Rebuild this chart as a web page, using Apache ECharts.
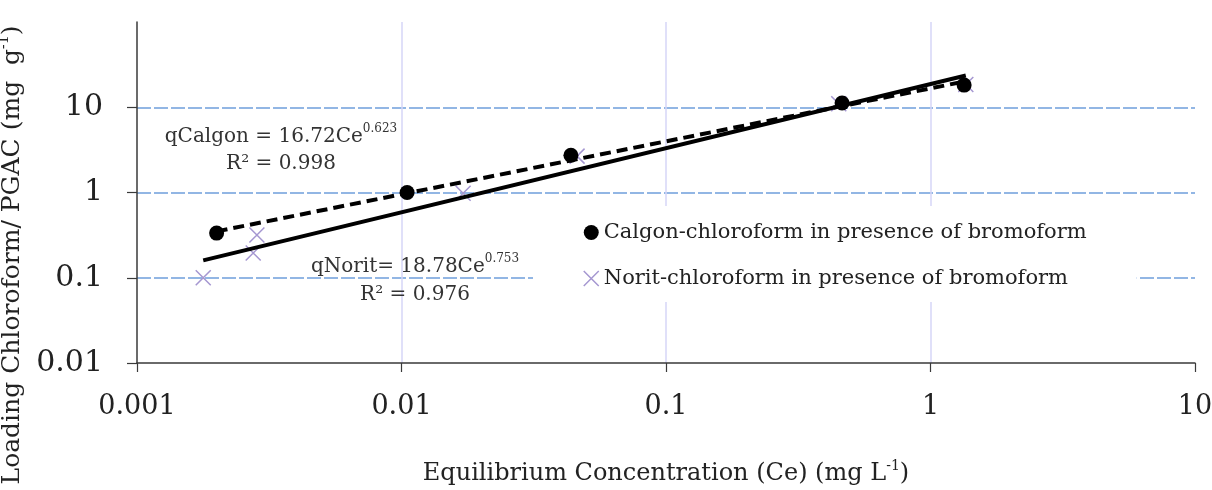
<!DOCTYPE html>
<html>
<head>
<meta charset="utf-8">
<script src="https://cdn.jsdelivr.net/npm/echarts@6/dist/echarts.min.js"></script>
<style>
html,body{margin:0;padding:0;background:#fff;}
#chart{width:1212px;height:490px;}
</style>
</head>
<body>
<div id="chart"></div>
<script>
// ---- data ----
const calgonCe = [0.002, 0.0105, 0.0437, 0.463, 1.34];
const calgonQ  = [0.334, 1.0, 2.74, 11.2, 18.2];
const noritCe  = [0.00178, 0.00275, 0.00284, 0.0171, 0.0461, 0.45, 1.36];
const noritQ   = [0.1, 0.195, 0.317, 0.98, 2.67, 11.0, 18.5];
const calgonFitCe = [0.002, 1.34];
const calgonFitQ  = [0.35, 20.0];
const noritFitCe  = [0.00178, 1.36];
const noritFitQ   = [0.16, 23.6];
const xTickLabels = ['0.001', '0.01', '0.1', '1', '10'];
const yTickLabels = ['0.01', '0.1', '1', '10'];
const seriesNames = ['Calgon-chloroform in presence of bromoform', 'Norit-chloroform in presence of bromoform'];

const pairs = (a, b) => a.map((v, i) => [v, b[i]]);
const FONT = '"DejaVu Serif", "Liberation Serif", serif';
const TXT = '#222';
const crossPath = 'path://M0,0L10,10M10,0L0,10';

const chart = echarts.init(document.getElementById('chart'), null, {renderer: 'canvas'});
const option = {
  backgroundColor: '#fff',
  animation: false,
  grid: {left: 137, right: 17, top: 22, bottom: 127, containLabel: false, outerBoundsMode: 'none'},
  xAxis: {
    type: 'log', logBase: 10, min: 0.001, max: 10,
    name: '{a|Equilibrium Concentration (Ce) (mg L}{s|-1}{a|)}',
    nameLocation: 'middle', nameGap: 96,
    nameTextStyle: {
      rich: {
        a: {fontFamily: FONT, fontSize: 24, color: TXT, lineHeight: 29},
        s: {fontFamily: FONT, fontSize: 14, color: TXT, lineHeight: 15, verticalAlign: 'top'}
      }
    },
    axisLine: {show: true, onZero: false, lineStyle: {color: '#3a3a3a', width: 1.5}},
    axisTick: {show: true, length: 9, lineStyle: {color: '#3a3a3a', width: 1.2}},
    axisLabel: {
      fontFamily: FONT, fontSize: 27, color: TXT, margin: 30,
      showMaxLabel: true, showMinLabel: true, hideOverlap: false,
      formatter: v => xTickLabels[Math.round(Math.log10(v)) + 3] || ''
    },
    splitLine: {show: true, showMinLine: false, showMaxLine: false, lineStyle: {color: '#d6d6f7', width: 1.5, type: 'solid'}},
    minorTick: {show: false}
  },
  yAxis: {
    type: 'log', logBase: 10, min: 0.01, max: 100,
    name: '{a|Loading Chloroform/ PGAC (mg  g}{s|-1}{a|)}',
    nameLocation: 'middle', nameGap: 101,
    nameTextStyle: {
      padding: [0, 125, 0, 0],
      rich: {
        a: {fontFamily: FONT, fontSize: 25, color: TXT, lineHeight: 30},
        s: {fontFamily: FONT, fontSize: 14, color: TXT, lineHeight: 15, verticalAlign: 'top'}
      }
    },
    axisLine: {show: true, onZero: false, lineStyle: {color: '#3a3a3a', width: 1.5}},
    axisTick: {show: true, length: 10, customValues: [0.01, 0.1, 1, 10], lineStyle: {color: '#3a3a3a', width: 1.2}},
    axisLabel: {
      fontFamily: FONT, fontSize: 30, color: TXT, margin: 34,
      customValues: [0.01, 0.1, 1, 10],
      formatter: v => yTickLabels[Math.round(Math.log10(v)) + 2] || ''
    },
    splitLine: {show: true, showMinLine: false, lineStyle: {color: '#6f9edb', width: 1.5, type: [14, 3]}},
    minorTick: {show: false}
  },
  legend: {
    orient: 'vertical', left: 533, top: 206,
    backgroundColor: '#fff',
    padding: [16, 50, 13, 50],
    itemGap: 25, itemWidth: 15, itemHeight: 15,
    textStyle: {fontFamily: FONT, fontSize: 21, color: TXT},
    data: [
      {name: seriesNames[0], icon: 'circle', itemStyle: {color: '#000', opacity: 1}},
      {name: seriesNames[1], icon: crossPath, itemStyle: {color: 'rgba(0,0,0,0)', borderColor: '#a597d1', borderWidth: 1.5, opacity: 1}}
    ]
  },
  series: [
    {
      name: seriesNames[0], type: 'scatter', z: 3,
      symbol: 'circle', symbolSize: 15,
      itemStyle: {color: '#000', opacity: 1},
      data: pairs(calgonCe, calgonQ)
    },
    {
      name: seriesNames[1], type: 'scatter', z: 2,
      symbol: crossPath, symbolSize: 15,
      itemStyle: {color: 'rgba(0,0,0,0)', borderColor: '#a597d1', borderWidth: 1.5, opacity: 1},
      data: pairs(noritCe, noritQ)
    },
    {
      name: 'calgonFit', type: 'line', z: 4, showSymbol: false, symbol: 'none',
      lineStyle: {color: '#000', width: 4, type: [11, 6]},
      data: pairs(calgonFitCe, calgonFitQ)
    },
    {
      name: 'noritFit', type: 'line', z: 4, showSymbol: false, symbol: 'none',
      lineStyle: {color: '#000', width: 4, type: 'solid'},
      data: pairs(noritFitCe, noritFitQ)
    }
  ],
  graphic: [
    {
      type: 'text', x: 281, y: 150, z: 10,
      style: {
        text: '{a|qCalgon = 16.72Ce}{s|0.623}\n{a|R² = 0.998}',
        align: 'center', verticalAlign: 'middle',
        rich: {
          a: {fontFamily: FONT, fontSize: 20, fill: '#333', lineHeight: 27},
          s: {fontFamily: FONT, fontSize: 12, fill: '#333', lineHeight: 12, verticalAlign: 'top'}
        }
      }
    },
    {
      type: 'text', x: 415, y: 281, z: 10,
      style: {
        text: '{a|qNorit= 18.78Ce}{s|0.753}\n{a|R² = 0.976}',
        align: 'center', verticalAlign: 'middle',
        rich: {
          a: {fontFamily: FONT, fontSize: 20, fill: '#333', lineHeight: 28},
          s: {fontFamily: FONT, fontSize: 12, fill: '#333', lineHeight: 12, verticalAlign: 'top'}
        }
      }
    }
  ]
};
chart.setOption(option);
</script>
</body>
</html>
